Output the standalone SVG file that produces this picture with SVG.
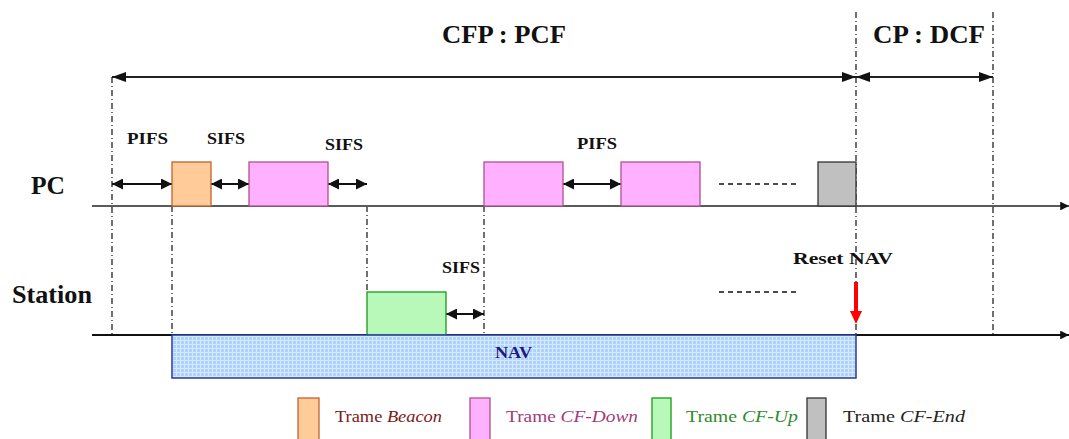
<svg xmlns="http://www.w3.org/2000/svg" width="1069" height="439" viewBox="0 0 1069 439" font-family="Liberation Serif, DejaVu Serif, serif">
<style>
.lbl{font-weight:bold;fill:#111;}
.big{font-size:26px;}
.sm{font-size:17px;}
.leg{font-size:17px;}
.vd{stroke:#111;stroke-width:1.2;stroke-dasharray:6 3 1 3;fill:none;}
.hd{stroke:#111;stroke-width:1.4;stroke-dasharray:5 4;fill:none;}
.arr{stroke:#111;stroke-width:2;fill:none;marker-start:url(#ah);marker-end:url(#ah);}
.tarr{stroke:#222;stroke-width:2;fill:none;marker-start:url(#ahb);marker-end:url(#ahb);}
.base{stroke-width:2.2;fill:none;marker-end:url(#ahe);}
</style>
<defs>
<marker id="ah" viewBox="0 0 10 10" refX="10" refY="5" markerWidth="5.5" markerHeight="5.5" orient="auto-start-reverse" markerUnits="strokeWidth">
<path d="M0,0 L10,5 L0,10 z" fill="#111"/>
</marker>
<marker id="ahb" viewBox="0 0 14 10" refX="14" refY="5" markerWidth="7" markerHeight="5.5" orient="auto-start-reverse" markerUnits="strokeWidth">
<path d="M0,0 L14,5 L0,10 z" fill="#111"/>
</marker>
<marker id="ahe" viewBox="0 0 10 10" refX="10" refY="5" markerWidth="4" markerHeight="4" orient="auto" markerUnits="strokeWidth">
<path d="M0,0 L10,5 L0,10 z" fill="#111"/>
</marker>
<pattern id="grid" width="4" height="4" patternUnits="userSpaceOnUse">
<rect width="4" height="4" fill="#aed2fd"/>
<path d="M0,0.5 H4 M0.5,0 V4" stroke="#d6e9ff" stroke-width="1"/>
</pattern>
</defs>

<g id="connectors">
<line class="vd" x1="112" y1="77" x2="112" y2="335"/>
<line class="vd" x1="172" y1="206" x2="172" y2="335"/>
<line class="vd" x1="367" y1="206" x2="367" y2="292"/>
<line class="vd" x1="484" y1="206" x2="484" y2="335"/>
<line class="vd" x1="856" y1="12" x2="856" y2="335"/>
<line class="vd" x1="993" y1="12" x2="993" y2="335"/>
<line class="tarr" x1="112" y1="77" x2="856" y2="77"/>
<line class="tarr" x1="856" y1="77" x2="993" y2="77"/>
<line class="arr" x1="112" y1="184" x2="172" y2="184"/>
<line class="arr" x1="211" y1="184" x2="249" y2="184"/>
<line class="arr" x1="328" y1="184" x2="367" y2="184"/>
<line class="arr" x1="563" y1="184" x2="621" y2="184"/>
<line class="arr" x1="446" y1="314" x2="484" y2="314"/>
<line class="hd" x1="719" y1="184" x2="798" y2="184"/>
<line class="hd" x1="719" y1="292" x2="798" y2="292"/>
<line class="base" x1="92" y1="206" x2="1069" y2="206" stroke="#5a5a5a"/>
<line class="base" x1="92" y1="335" x2="1069" y2="335" stroke="#111"/>
<line x1="856" y1="282" x2="856" y2="313" stroke="#ff0000" stroke-width="4"/>
<polygon points="850,311 862,311 856,324" fill="#ff0000"/>
</g>

<g id="title-cfp"><text class="lbl big" x="442" y="43" textLength="124" lengthAdjust="spacingAndGlyphs">CFP : PCF</text></g>
<g id="title-cp"><text class="lbl big" x="873" y="43" textLength="112" lengthAdjust="spacingAndGlyphs">CP : DCF</text></g>
<g id="label-pc"><text class="lbl big" x="31" y="194" textLength="34" lengthAdjust="spacingAndGlyphs">PC</text></g>
<g id="label-station"><text class="lbl big" x="12" y="303" textLength="80" lengthAdjust="spacingAndGlyphs">Station</text></g>

<g id="lbl-pifs1"><text class="lbl sm" x="127" y="144" textLength="41" lengthAdjust="spacingAndGlyphs">PIFS</text></g>
<g id="lbl-sifs1"><text class="lbl sm" x="207" y="144" textLength="38" lengthAdjust="spacingAndGlyphs">SIFS</text></g>
<g id="lbl-sifs2"><text class="lbl sm" x="325" y="150" textLength="38" lengthAdjust="spacingAndGlyphs">SIFS</text></g>
<g id="lbl-pifs2"><text class="lbl sm" x="577" y="149" textLength="40" lengthAdjust="spacingAndGlyphs">PIFS</text></g>
<g id="lbl-sifs3"><text class="lbl sm" x="442" y="273" textLength="38" lengthAdjust="spacingAndGlyphs">SIFS</text></g>
<g id="lbl-reset"><text class="lbl sm" x="793" y="264" textLength="100" lengthAdjust="spacingAndGlyphs">Reset NAV</text></g>

<g id="beacon"><rect x="172" y="162" width="39" height="44" fill="#ffcc99" stroke="#c0642a" stroke-width="1.3"/></g>
<g id="cfdown1"><rect x="249" y="162" width="79" height="44" fill="#ffb0ff" stroke="#b05090" stroke-width="1.3"/></g>
<g id="cfdown2"><rect x="484" y="162" width="79" height="44" fill="#ffb0ff" stroke="#b05090" stroke-width="1.3"/></g>
<g id="cfdown3"><rect x="621" y="162" width="79" height="44" fill="#ffb0ff" stroke="#b05090" stroke-width="1.3"/></g>
<g id="cfend"><rect x="818" y="162" width="38" height="44" fill="#c0c0c0" stroke="#333" stroke-width="1.3"/></g>
<g id="cfup"><rect x="367" y="292" width="79" height="43" fill="#b8f8b8" stroke="#1a9a1a" stroke-width="1.3"/></g>

<g id="nav">
<rect x="172" y="335" width="684" height="43" fill="url(#grid)" stroke="#2a3a9a" stroke-width="1.5"/>
<text class="lbl" x="495" y="358" font-size="16" style="fill:#1a1a80" textLength="37" lengthAdjust="spacingAndGlyphs">NAV</text>
</g>

<g id="legend">
<rect x="298" y="398" width="21" height="45" fill="#ffcc99" stroke="#c0642a" stroke-width="1.3"/>
<text class="leg" x="335" y="422" fill="#7a1a1a" textLength="107" lengthAdjust="spacingAndGlyphs">Trame <tspan font-style="italic">Beacon</tspan></text>
<rect x="470" y="398" width="20" height="45" fill="#ffb0ff" stroke="#b05090" stroke-width="1.3"/>
<text class="leg" x="506" y="422" fill="#a03c78" textLength="132" lengthAdjust="spacingAndGlyphs">Trame <tspan font-style="italic">CF-Down</tspan></text>
<rect x="652" y="398" width="19" height="45" fill="#b8f8b8" stroke="#1a9a1a" stroke-width="1.3"/>
<text class="leg" x="686" y="422" fill="#2e8b2e" textLength="112" lengthAdjust="spacingAndGlyphs">Trame <tspan font-style="italic">CF-Up</tspan></text>
<rect x="807" y="398" width="19" height="45" fill="#c0c0c0" stroke="#333" stroke-width="1.3"/>
<text class="leg" x="843" y="422" fill="#222" textLength="122" lengthAdjust="spacingAndGlyphs">Trame <tspan font-style="italic">CF-End</tspan></text>
</g>
</svg>
